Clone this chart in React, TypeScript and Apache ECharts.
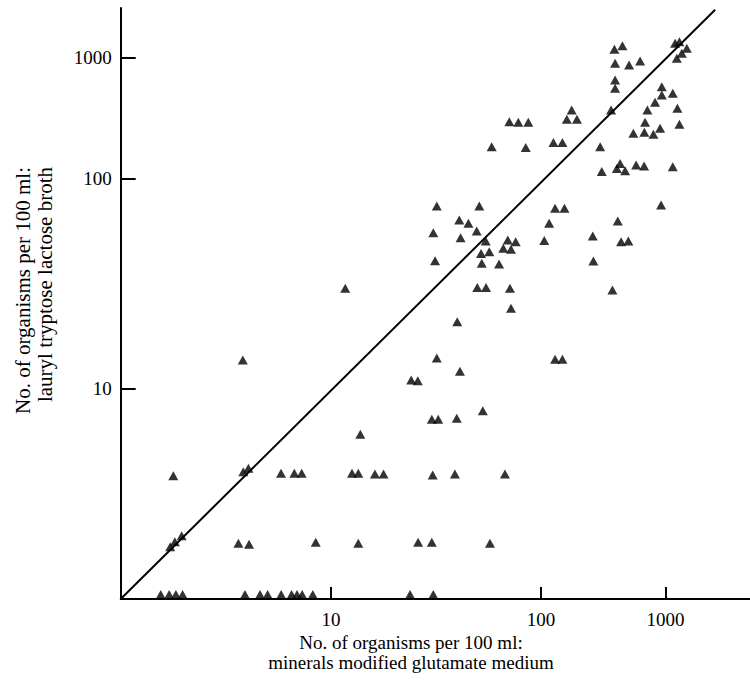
import React, { useEffect, useRef } from "react";
import * as echarts from "echarts";

// Axis tick labels (organisms per 100 ml)
const tickValues = [10, 100, 1000];

// Reference line y = x, drawn between these two counts
const equalityLine = [1, 2500];

// Samples where lauryl tryptose lactose broth gave no count (plotted on the x axis)
const noneDetectedMMGM = [1.55, 1.7, 1.83, 1.97, 3.9, 4.6, 5.0, 5.8, 6.5, 6.9, 7.3, 8.2, 23.8, 30.7];

// [minerals modified glutamate medium, lauryl tryptose lactose broth]
const lowCounts: [number, number][] = [
  [1.72, 1.77], [1.81, 1.87], [1.95, 2.0],
  [3.63, 1.84], [4.08, 1.82], [8.47, 1.86], [13.5, 1.84], [26.0, 1.86], [30.2, 1.86], [57.1, 1.84],
  [1.78, 3.86], [3.83, 4.03], [4.05, 4.18], [5.79, 3.96], [6.7, 3.96], [7.26, 3.96],
  [12.6, 3.96], [13.5, 3.96], [16.2, 3.93], [17.8, 3.93], [30.5, 3.89], [38.9, 3.93], [67.3, 3.93],
  [13.8, 6.07],
  [30.2, 7.15], [32.4, 7.15], [39.7, 7.23], [52.8, 7.86],
];

const midCounts: [number, number][] = [
  [24.1, 11.0], [25.9, 10.9], [41.1, 12.1], [31.9, 14.0], [129.5, 13.8], [148.3, 13.8], [3.81, 13.7],
  [39.9, 20.8], [71.9, 24.1],
  [49.7, 30.3], [54.7, 30.3], [71.1, 30.0], [374, 29.5], [11.7, 30.0],
  [31.3, 40.6], [52.2, 39.5], [63.1, 39.2], [263, 40.5],
  [51.8, 44.0], [56.7, 44.8], [66.1, 46.5], [71.9, 46.0], [69.4, 50.9], [75.7, 50.0],
  [54.5, 50.4], [106, 50.6], [260, 53.2], [439, 50.0], [502, 50.4],
  [30.7, 55.2], [49.4, 56.2], [41.4, 52.2],
  [40.8, 63.4], [45.1, 61.2], [116, 61.2], [413, 62.7],
  [31.9, 73.9], [50.8, 73.9], [129.5, 72.1], [154, 72.1], [920, 74.7],
];

const highCounts: [number, number][] = [
  [58.2, 183], [84.5, 180], [125.6, 198], [148.3, 198], [298, 183],
  [70.6, 295], [77.9, 292], [86.9, 292],
  [161, 309], [194, 309], [176, 369], [365, 369],
  [307, 114], [406, 121], [473, 116], [431, 133], [580, 129], [672, 127], [1142, 125],
  [388, 1176], [450, 1260], [393, 900], [509, 872], [624, 941], [393, 655], [393, 559],
  [1192, 1319], [1291, 1360], [1480, 1199], [1349, 1090], [1230, 991],
  [932, 576], [932, 491], [1142, 508], [823, 428], [714, 369], [1244, 381],
  [684, 292], [903, 260], [551, 237], [675, 241], [798, 232], [1291, 281],
];

// The printed axes compress the decade above 100
const X_UPPER_DECADE = 0.5923;
const Y_UPPER_DECADE = 0.5735;

function axisPos(v: number, k: number): number {
  const L = Math.log10(v);
  return L <= 2 ? L : 2 + (L - 2) * k;
}
const toX = (v: number) => axisPos(v, X_UPPER_DECADE);
const toY = (v: number) => axisPos(v, Y_UPPER_DECADE);

const FONT = "'Liberation Serif', 'Times New Roman', serif";

export default function App() {
  const ref = useRef<HTMLDivElement>(null);

  useEffect(() => {
    if (!ref.current) return;
    const chart = echarts.init(ref.current, undefined, { renderer: "svg" });

    const xTicks = tickValues.map(toX);
    const yTicks = tickValues.map(toY);
    const labelFor = (ticks: number[]) => (val: number) => {
      let best = 0;
      for (let i = 1; i < ticks.length; i++) {
        if (Math.abs(ticks[i] - val) < Math.abs(ticks[best] - val)) best = i;
      }
      return String(tickValues[best]);
    };

    const allPairs = [...lowCounts, ...midCounts, ...highCounts];

    chart.setOption({
      animation: false,
      backgroundColor: "#fff",
      grid: {
        left: 120.7,
        top: 8,
        width: 630.6,
        height: 591,
        containLabel: false,
        outerBoundsMode: "none",
      },
      xAxis: {
        type: "value",
        min: 0,
        max: 3,
        axisLine: { show: true, onZero: false, lineStyle: { color: "#000", width: 2 } },
        axisTick: {
          show: true,
          inside: true,
          length: 12,
          customValues: xTicks,
          lineStyle: { color: "#000", width: 2 },
        },
        axisLabel: {
          show: true,
          customValues: xTicks,
          formatter: labelFor(xTicks),
          color: "#000",
          fontFamily: FONT,
          fontSize: 19,
          margin: 11,
        },
        splitLine: { show: false },
      },
      yAxis: {
        type: "value",
        min: 0,
        max: 591 / 210.3,
        axisLine: { show: true, onZero: false, lineStyle: { color: "#000", width: 2 } },
        axisTick: {
          show: true,
          inside: true,
          length: 15,
          customValues: yTicks,
          lineStyle: { color: "#000", width: 2 },
        },
        axisLabel: {
          show: true,
          customValues: yTicks,
          formatter: labelFor(yTicks),
          color: "#000",
          fontFamily: FONT,
          fontSize: 19,
          margin: 9,
        },
        splitLine: { show: false },
      },
      graphic: [
        {
          type: "text",
          x: 411,
          y: 642,
          style: {
            text: "No. of organisms per 100 ml:",
            fill: "#000",
            font: `19px ${FONT}`,
            textAlign: "center",
            textVerticalAlign: "middle",
          },
        },
        {
          type: "text",
          x: 411,
          y: 662,
          style: {
            text: "minerals modified glutamate medium",
            fill: "#000",
            font: `19px ${FONT}`,
            textAlign: "center",
            textVerticalAlign: "middle",
          },
        },
        {
          type: "text",
          x: 23,
          y: 167,
          rotation: Math.PI / 2,
          style: {
            text: "No. of organisms per 100 ml:",
            fill: "#000",
            font: `21px ${FONT}`,
            textAlign: "right",
            textVerticalAlign: "middle",
          },
        },
        {
          type: "text",
          x: 45,
          y: 167,
          rotation: Math.PI / 2,
          style: {
            text: "lauryl tryptose lactose broth",
            fill: "#000",
            font: `21px ${FONT}`,
            textAlign: "right",
            textVerticalAlign: "middle",
          },
        },
      ],
      series: [
        {
          type: "line",
          data: equalityLine.map((v) => [toX(v), toY(v)]),
          symbol: "none",
          lineStyle: { color: "#000", width: 2 },
          silent: true,
          z: 1,
        },
        {
          type: "scatter",
          data: allPairs.map(([x, y]) => [toX(x), toY(y)]),
          symbol: "triangle",
          symbolSize: [10, 9],
          itemStyle: { color: "#000" },
          z: 3,
        },
        {
          type: "scatter",
          data: noneDetectedMMGM.map((x) => [toX(x), toY(1)]),
          symbol: "triangle",
          symbolSize: [10, 9],
          symbolOffset: [0, -4.5],
          itemStyle: { color: "#000" },
          z: 3,
        },
      ],
    });

    return () => chart.dispose();
  }, []);

  return (
    <div
      ref={ref}
      style={{ position: "absolute", left: 0, top: 0, width: 750, height: 689, background: "#fff" }}
    />
  );
}
